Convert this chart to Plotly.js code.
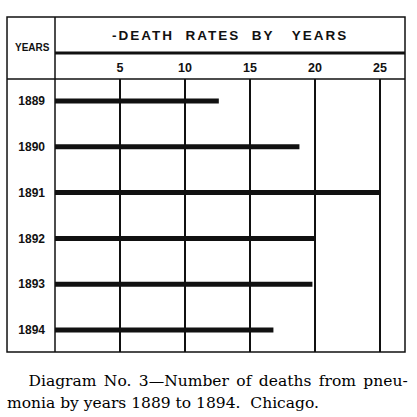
<!DOCTYPE html>
<html>
<head>
<meta charset="utf-8">
<script src="https://cdn.plot.ly/plotly-3.0.1.min.js"></script>
<style>
  html, body { margin: 0; padding: 0; background: #fff; }
  #chart { width: 417px; height: 417px; }
  g.annotation[data-index="0"] text { letter-spacing: 2px; }
  g.annotation[data-index="2"] text { word-spacing: 2.5px; }
</style>
</head>
<body>
<div id="chart"></div>
<script>
// Data
const years = ['1889', '1890', '1891', '1892', '1893', '1894'];
const deathRates = [12.6, 18.8, 25.0, 20.0, 19.8, 16.8];
const tickValues = [5, 10, 15, 20, 25];
const tickLabels = ['5', '10', '15', '20', '25'];
const chartTitle = '-DEATH\u00a0\u00a0RATES\u00a0\u00a0BY\u00a0\u00a0\u00a0YEARS';
const columnHeader = 'YEARS';
const captionLine1 = 'Diagram No. 3\u2014Number of deaths from pneu-';
const captionLine2 = 'monia by years 1889 to 1894.\u00a0\u00a0Chicago.';

const ink = '#111';

const trace = {
  type: 'bar',
  orientation: 'h',
  x: deathRates,
  y: years,
  width: 0.11,
  marker: { color: ink, line: { width: 0 } },
  hoverinfo: 'skip'
};

const leftX = -0.1371, topY = 1.2271, headY = 1.0952;

const layout = {
  width: 417,
  height: 417,
  margin: { l: 55, r: 12, t: 79, b: 65, pad: 0 },
  paper_bgcolor: '#fff',
  plot_bgcolor: '#fff',
  showlegend: false,
  xaxis: {
    range: [0, 26.92],
    side: 'top',
    tickvals: tickValues,
    ticktext: tickLabels,
    ticks: '',
    ticklabelstandoff: 4,
    showgrid: true,
    gridcolor: ink,
    gridwidth: 1.5,
    zeroline: false,
    showline: false,
    fixedrange: true,
    tickfont: { family: 'Liberation Sans, Arial, sans-serif', size: 12.5, color: ink, weight: 'bold' }
  },
  yaxis: {
    type: 'category',
    range: [5.48, -0.48],
    ticks: '',
    ticklabelstandoff: 9,
    showgrid: false,
    zeroline: false,
    showline: false,
    fixedrange: true,
    tickfont: { family: 'Liberation Sans, Arial, sans-serif', size: 12, color: ink, weight: 'bold' }
  },
  shapes: [
    { type: 'rect', xref: 'paper', yref: 'paper', x0: leftX, x1: 1, y0: 0, y1: topY, line: { color: ink, width: 1.5 } },
    { type: 'line', xref: 'paper', yref: 'paper', x0: 0, x1: 0, y0: 0, y1: topY, line: { color: ink, width: 1.5 } },
    { type: 'line', xref: 'paper', yref: 'paper', x0: 0, x1: 1, y0: headY, y1: headY, line: { color: ink, width: 3 } },
    { type: 'line', xref: 'paper', yref: 'paper', x0: leftX, x1: 1, y0: 1, y1: 1, line: { color: ink, width: 1.5 } }
  ],
  annotations: [
    { text: chartTitle, xref: 'paper', yref: 'paper', x: 0.5, y: 1.161, xanchor: 'center', yanchor: 'middle', showarrow: false,
      font: { family: 'Liberation Sans, Arial, sans-serif', size: 13.5, color: ink, weight: 'bold' } },
    { text: columnHeader, xref: 'paper', yref: 'paper', x: -0.063, y: 1.117, xanchor: 'center', yanchor: 'middle', showarrow: false,
      font: { family: 'Liberation Sans, Arial, sans-serif', size: 10, color: ink, weight: 'bold' } },
    { text: captionLine1, xref: 'paper', yref: 'paper', x: -0.0586, y: -0.1062, xanchor: 'left', yanchor: 'middle', showarrow: false,
      font: { family: 'DejaVu Serif, serif', size: 15.5, color: '#000' } },
    { text: captionLine2, xref: 'paper', yref: 'paper', x: -0.1429, y: -0.1868, xanchor: 'left', yanchor: 'middle', showarrow: false,
      font: { family: 'DejaVu Serif, serif', size: 15.5, color: '#000' } }
  ]
};

Plotly.newPlot('chart', [trace], layout, { staticPlot: true, displayModeBar: false });
</script>
</body>
</html>
